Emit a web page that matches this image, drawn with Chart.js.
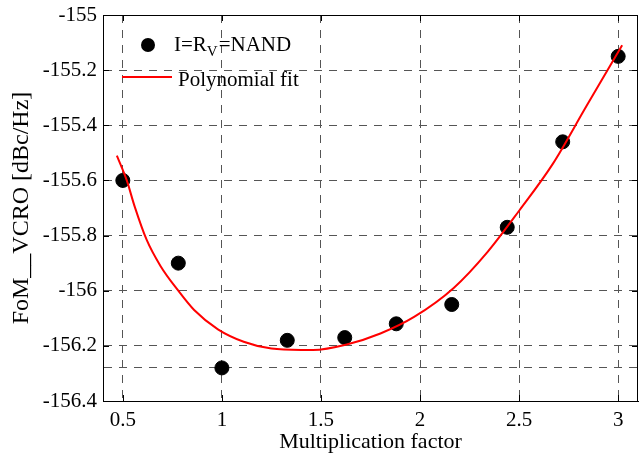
<!DOCTYPE html>
<html>
<head>
<meta charset="utf-8">
<script src="https://cdn.jsdelivr.net/npm/chart.js@4.4.1/dist/chart.umd.min.js"></script>
<style>
html, body { margin: 0; padding: 0; background: #fff; }
#wrap { width: 639px; height: 453px; }
</style>
</head>
<body>
<div id="wrap"><canvas id="fomChart" width="639" height="453"></canvas></div>
<script>
// measured points
var multFactor = [0.5, 0.78, 1.0, 1.33, 1.62, 1.88, 2.16, 2.44, 2.72, 3.0];
var fomValues = [-155.60, -155.90, -156.28, -156.18, -156.17, -156.12, -156.05, -155.77, -155.46, -155.15];

// polynomial fit
var fitX = [0.47, 0.52, 0.56, 0.62, 0.69, 0.78, 0.86, 0.98, 1.11, 1.25, 1.40, 1.46, 1.63, 1.80, 1.97, 2.17, 2.34, 2.50, 2.67, 2.84, 3.02];
var fitY = [-155.51, -155.60, -155.695, -155.815, -155.91, -156.00, -156.07, -156.14, -156.185, -156.21, -156.215, -156.215, -156.195, -156.155, -156.095, -155.99, -155.86, -155.71, -155.54, -155.33, -155.11];

var xTicks = [0.5, 1, 1.5, 2, 2.5, 3];
var yTicks = [-156.4, -156.2, -156, -155.8, -155.6, -155.4, -155.2, -155];
var extraGridY = [-156.28];

Chart.defaults.font.family = '"Liberation Serif", "Times New Roman", serif';
Chart.defaults.color = '#000';

var scatterPts = multFactor.map(function(x, i) { return {x: x, y: fomValues[i]}; });
var fitPts = fitX.map(function(x, i) { return {x: x, y: fitY[i]}; });

function noScalePadding(scale) {
    scale.paddingTop = 0;
    scale.paddingBottom = 0;
    scale.paddingLeft = 0;
    scale.paddingRight = 0;
}

var framePlugin = {
    id: 'frame',
    afterDraw: function(chart) {
        var ctx = chart.ctx;
        var a = chart.chartArea;
        var xs = chart.scales.x, ys = chart.scales.y;
        ctx.save();
        ctx.strokeStyle = '#000';
        ctx.lineWidth = 1;
        ctx.setLineDash([]);
        ctx.strokeRect(Math.round(a.left) + 0.5, Math.round(a.top) + 0.5,
            Math.round(a.right - a.left) - 1, Math.round(a.bottom - a.top));
        // inner tick marks
        ctx.beginPath();
        xTicks.forEach(function(v) {
            var px = Math.round(xs.getPixelForValue(v)) + 0.5;
            ctx.moveTo(px, a.bottom); ctx.lineTo(px, a.bottom - 6);
            ctx.moveTo(px, a.top); ctx.lineTo(px, a.top + 6);
        });
        yTicks.forEach(function(v) {
            var py = Math.round(ys.getPixelForValue(v)) + 0.5;
            ctx.moveTo(a.left, py); ctx.lineTo(a.left + 6, py);
            ctx.moveTo(a.right, py); ctx.lineTo(a.right - 6, py);
        });
        ctx.stroke();

        // legend
        var lx = a.left, ly = a.top;
        ctx.fillStyle = '#000';
        ctx.beginPath();
        ctx.arc(lx + 45, ly + 30, 7, 0, Math.PI * 2);
        ctx.fill();
        ctx.strokeStyle = '#ff0000';
        ctx.lineWidth = 2;
        ctx.beginPath();
        ctx.moveTo(lx + 19, ly + 62);
        ctx.lineTo(lx + 69, ly + 62);
        ctx.stroke();

        ctx.textBaseline = 'middle';
        ctx.textAlign = 'left';
        var big = '21px "Liberation Serif", serif';
        var small = '15px "Liberation Serif", serif';
        var tx = lx + 71;
        ctx.font = big;
        ctx.fillText('I=R', tx, ly + 30);
        tx += ctx.measureText('I=R').width;
        ctx.font = small;
        ctx.fillText('V', tx, ly + 37);
        tx += ctx.measureText('V').width + 1;
        ctx.font = big;
        ctx.fillText('=NAND', tx, ly + 30);
        ctx.fillText('Polynomial fit', lx + 75, ly + 65);
        ctx.restore();
    }
};

var ctx = document.getElementById('fomChart').getContext('2d');
var fomChart = new Chart(ctx, {
    type: 'scatter',
    data: {
        datasets: [{
            label: 'Polynomial fit',
            type: 'line',
            data: fitPts,
            borderColor: '#ff0000',
            borderWidth: 2,
            pointRadius: 0,
            fill: false,
            tension: 0.4,
            cubicInterpolationMode: 'monotone',
            order: 0
        }, {
            label: 'I=RV=NAND',
            data: scatterPts,
            backgroundColor: '#000',
            borderColor: '#000',
            pointRadius: 7,
            pointHoverRadius: 7,
            order: 1
        }]
    },
    options: {
        responsive: false,
        animation: false,
        layout: { autoPadding: false, padding: { top: 15, right: 1, left: 0, bottom: 0 } },
        plugins: {
            legend: { display: false },
            tooltip: { enabled: false }
        },
        scales: {
            x: {
                type: 'linear',
                min: 0.4,
                max: 3.1,
                afterBuildTicks: function(scale) {
                    scale.ticks = xTicks.map(function(v) { return {value: v}; });
                },
                afterFit: function(scale) {
                    scale.height = 52;
                    noScalePadding(scale);
                },
                ticks: {
                    font: { size: 21 },
                    padding: 7,
                    maxRotation: 0,
                    callback: function(v) { return String(v); }
                },
                grid: { color: '#555', lineWidth: 1, drawTicks: false },
                border: { display: true, color: '#000', width: 1, dash: [8, 7] },
                title: {
                    display: true,
                    text: 'Multiplication factor',
                    font: { size: 22, lineHeight: 1 },
                    padding: { top: 0, bottom: 0 }
                }
            },
            y: {
                type: 'linear',
                min: -156.4,
                max: -155,
                afterBuildTicks: function(scale) {
                    scale.ticks = yTicks.concat(extraGridY).sort(function(p, q) { return p - q; })
                        .map(function(v) { return {value: v}; });
                },
                afterFit: function(scale) {
                    scale.width = 103;
                    noScalePadding(scale);
                },
                ticks: {
                    font: { size: 21 },
                    padding: 6,
                    callback: function(v) {
                        if (extraGridY.indexOf(v) >= 0) return '';
                        return String(Math.round(v * 10) / 10);
                    }
                },
                grid: { color: '#555', lineWidth: 1, drawTicks: false },
                border: { display: true, color: '#000', width: 1, dash: [8, 7] },
                title: {
                    display: true,
                    text: 'FoM__VCRO [dBc/Hz]',
                    font: { size: 24, lineHeight: 1 },
                    padding: { top: 10, bottom: 0 }
                }
            }
        }
    },
    plugins: [framePlugin]
});
</script>
</body>
</html>
